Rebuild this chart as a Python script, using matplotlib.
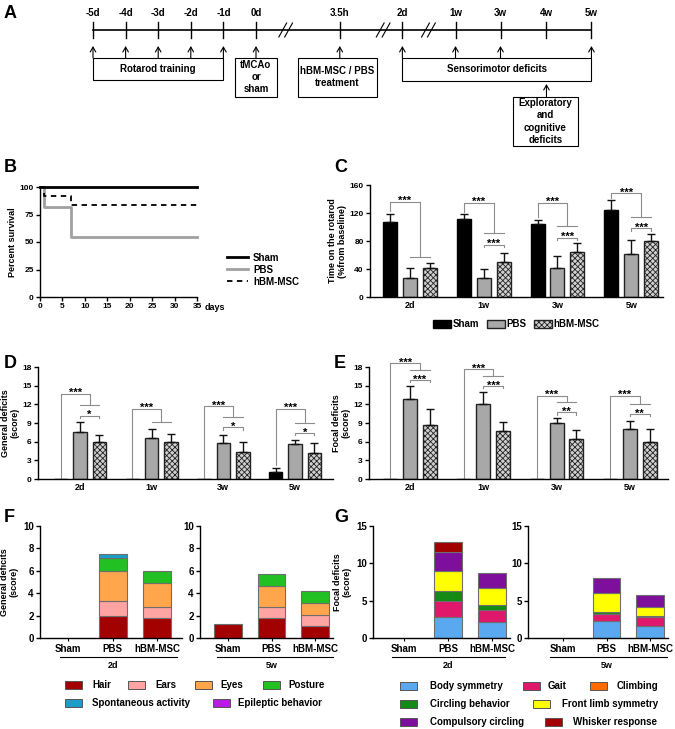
import numpy as np
import matplotlib
matplotlib.use('Agg')
import matplotlib.pyplot as plt
from matplotlib.patches import Rectangle
from matplotlib.lines import Line2D
import matplotlib.transforms as mtransforms

plt.rcParams['font.family'] = ['Liberation Sans', 'DejaVu Sans']
plt.rcParams['font.weight'] = 'bold'
plt.rcParams['axes.labelweight'] = 'bold'
plt.rcParams['axes.linewidth'] = 1.0
plt.rcParams['hatch.linewidth'] = 0.6
plt.rcParams['xtick.labelsize'] = 6.5
plt.rcParams['ytick.labelsize'] = 6

W, H = 675, 729

# ==================== data ====================
# A: timeline
tl_labels = ['-5d', '-4d', '-3d', '-2d', '-1d', '0d', '3.5h', '2d', '1w', '3w', '4w', '5w']
tl_pos = [0, 1, 2, 3, 4, 5, 7.57, 9.49, 11.12, 12.5, 13.91, 15.29]
tl_arrow = [1, 1, 1, 1, 1, 1, 1, 1, 1, 1, 0, 1]
tl_breaks = [5.91, 8.9, 10.29]
box_text = ['Rotarod training', 'tMCAo\nor\nsham', 'hBM-MSC / PBS\ntreatment', 'Sensorimotor deficits']
box_left = [0, 4.36, 6.28, 9.49]
box_right = [4, 5.64, 8.72, 15.29]
box_bottom = [80, 97, 97, 81]

# B: survival
surv_days = [0, 1, 7, 35]
surv_sham = [100, 100, 100, 100]
surv_pbs = [100, 81.8, 54.5, 54.5]
surv_msc = [100, 91.7, 83.3, 83.3]

groups = ['2d', '1w', '3w', '5w']

# C: rotarod
c_sham = [107, 111, 104, 124]
c_sham_err = [12, 7, 6, 14]
c_pbs = [27, 27, 42, 61]
c_pbs_err = [15, 13, 16, 21]
c_msc = [41, 50, 65, 80]
c_msc_err = [8, 13, 12, 10]
c_up = [136, 135, 135, 148]
c_drop = [57, 92, 101, 115]
c_low = [None, 75, 85, 98]
c_stars = ['', '***', '***', '***']

# D: general deficits
d_sham = [0, 0, 0, 1.2]
d_sham_err = [0, 0, 0, 0.6]
d_pbs = [7.5, 6.6, 5.8, 5.6]
d_pbs_err = [1.6, 1.5, 1.2, 0.6]
d_msc = [6.0, 6.0, 4.3, 4.2]
d_msc_err = [1.0, 1.3, 1.7, 1.6]
d_up = [13.7, 11.3, 11.7, 11.3]
d_drop = [11.9, 9.1, 9.9, 9.05]
d_low = [10.2, None, 8.3, 7.4]
d_stars = ['*', '', '*', '*']

# E: focal deficits
e_sham = [0, 0, 0, 0]
e_sham_err = [0, 0, 0, 0]
e_pbs = [12.85, 12.05, 8.95, 8.1]
e_pbs_err = [2.1, 1.9, 0.8, 1.3]
e_msc = [8.6, 7.75, 6.45, 5.9]
e_msc_err = [2.7, 1.35, 1.35, 2.1]
e_up = [18.6, 17.7, 13.4, 13.4]
e_drop = [17.5, 16.6, 12.3, 12.1]
e_low = [15.9, 14.9, 10.7, 10.4]
e_stars = ['***', '***', '**', '**']

# F: general deficits components
conds = ['Sham', 'PBS', 'hBM-MSC']
f_cats = ['Hair', 'Ears', 'Eyes', 'Posture', 'Spontaneous activity', 'Epileptic behavior']
f_colors = ['#a30000', '#ffa3a3', '#ffa64d', '#22c022', '#1a9ec8', '#b71ce0']
f_2d_sham = [0, 0, 0, 0, 0, 0]
f_2d_pbs = [2.0, 1.3, 2.65, 1.2, 0.38, 0]
f_2d_msc = [1.75, 1.0, 2.2, 1.0, 0, 0]
f_5w_sham = [1.22, 0, 0, 0, 0, 0]
f_5w_pbs = [1.82, 0.96, 1.85, 1.04, 0, 0]
f_5w_msc = [1.07, 1.02, 1.04, 1.08, 0, 0]

# G: focal deficits components
g_cats = ['Body symmetry', 'Gait', 'Climbing', 'Circling behavior', 'Front limb symmetry',
          'Compulsory circling', 'Whisker response']
g_colors = ['#5aa9f0', '#e0186c', '#ff6a00', '#138a13', '#ffff00', '#7d0f9c', '#a30000']
g_2d_sham = [0, 0, 0, 0, 0, 0, 0]
g_2d_pbs = [2.82, 2.15, 0, 1.39, 2.64, 2.5, 1.35]
g_2d_msc = [2.15, 1.65, 0, 0.68, 2.15, 2.1, 0]
g_5w_sham = [0, 0, 0, 0, 0, 0, 0]
g_5w_pbs = [2.24, 1.03, 0, 0.22, 2.47, 2.14, 0]
g_5w_msc = [1.61, 1.21, 0, 0.09, 1.25, 1.66, 0]

# ==================== figure ====================
fig = plt.figure(figsize=(W / 100, H / 100), dpi=100)


def add_ax(l, t, r, b):
    return fig.add_axes([l / W, 1 - b / H, (r - l) / W, (b - t) / H])


def style(ax):
    for s in ['top', 'right']:
        ax.spines[s].set_visible(False)
    ax.tick_params(direction='out', length=3, width=1, pad=1.5)


arrow_kw = dict(arrowstyle='->,head_length=0.35,head_width=0.2', lw=0.8, color='black', shrinkA=0, shrinkB=0)

# ---- A: timeline ----
axA = add_ax(0, 0, 675, 160)
axA.set_xlim(-93 / 32.6, (675 - 93) / 32.6)
axA.set_ylim(160, 0)
axA.axis('off')
axA.plot([tl_pos[0], tl_pos[-1]], [30, 30], color='black', lw=1.2)
for p, lab, arr in zip(tl_pos, tl_labels, tl_arrow):
    axA.plot([p, p], [22, 38], color='black', lw=1.0)
    axA.text(p, 13, lab, ha='center', va='center', fontsize=7)
    if arr:
        axA.annotate('', xy=(p, 46), xytext=(p, 58), arrowprops=arrow_kw)
for b in tl_breaks:
    for d in (-0.09, 0.09):
        axA.plot([b + d - 0.12, b + d + 0.12], [37, 23], color='black', lw=0.8)
for txt, l, r, bt in zip(box_text, box_left, box_right, box_bottom):
    axA.add_patch(Rectangle((l, 58), r - l, bt - 58, fill=False, ec='black', lw=0.8))
    axA.text((l + r) / 2, (58 + bt) / 2, txt, ha='center', va='center', fontsize=7, linespacing=1.25)
axA.annotate('', xy=(tl_pos[10], 84), xytext=(tl_pos[10], 97), arrowprops=arrow_kw)
axA.add_patch(Rectangle((12.88, 97), 1.99, 49, fill=False, ec='black', lw=0.8))
axA.text(13.875, 121.5, 'Exploratory\nand\ncognitive\ndeficits', ha='center', va='center', fontsize=7,
         linespacing=1.3)

# ---- B: survival ----
axB = add_ax(40, 187, 197, 297)
style(axB)
axB.step(surv_days, surv_sham, where='post', color='black', lw=2, label='Sham', clip_on=False, zorder=3)
axB.step(surv_days, surv_pbs, where='post', color='#a0a0a0', lw=2, label='PBS', clip_on=False)
axB.step(surv_days, surv_msc, where='post', color='black', lw=1.3, ls=(0, (3, 2.5)), label='hBM-MSC',
         clip_on=False)
axB.set_xlim(0, 35)
axB.set_ylim(0, 100)
axB.set_xticks(range(0, 36, 5))
axB.set_yticks([0, 25, 50, 75, 100])
axB.tick_params(axis='x', labelsize=6)
axB.set_ylabel('Percent survival', fontsize=6.5, labelpad=2)
axB.text(1.05, -0.1, 'days', transform=axB.transAxes, fontsize=6.5, ha='left', va='center')
axB.legend(loc='upper left', bbox_to_anchor=(218 / W, 1 - 244 / H), bbox_transform=fig.transFigure,
           frameon=False, fontsize=7, handlelength=2.2, handletextpad=0.5, labelspacing=0.2)


def stars_at(ax, x, y, s):
    ax.annotate(s, (x, y), xytext=(0, -1.8), textcoords='offset points', ha='center', va='baseline',
                fontsize=8, annotation_clip=False)


# ---- C, D, E: grouped bars ----
def bar_panel(ax, sham, sham_e, pbs, pbs_e, msc, msc_e, up, drop, low, stars, gap, tk):
    x = np.arange(len(groups))
    off, w = 0.27, 0.19
    ax.bar(x - off, sham, w, color='black', edgecolor='black', lw=1, label='Sham')
    ax.bar(x, pbs, w, color='#a8a8a8', edgecolor='#222222', lw=1, label='PBS')
    ax.bar(x + off, msc, w, color='#d0d0d0', edgecolor='#222222', lw=1, hatch='xxxxxx', label='hBM-MSC')
    for xs, v, e in ((x - off, sham, sham_e), (x, pbs, pbs_e), (x + off, msc, msc_e)):
        v = np.array(v, float)
        e = np.array(e, float)
        m = v > 0
        ax.errorbar(xs[m], v[m], yerr=[np.zeros(m.sum()), e[m]], fmt='none', ecolor='#111111',
                    elinewidth=1, capsize=3, capthick=1)
    gray = '#8c8c8c'
    for i in range(len(groups)):
        leg = sham[i] + sham_e[i] + gap if sham[i] > 0 else 0
        xl, xm = i - off, i + off / 2
        ax.plot([xl, xl, xm, xm], [leg, up[i], up[i], drop[i]], color=gray, lw=0.8, clip_on=False)
        ax.plot([i, i + off], [drop[i], drop[i]], color=gray, lw=0.8, clip_on=False)
        stars_at(ax, (xl + xm) / 2, up[i], '***')
        if low[i] is not None:
            ax.plot([i, i, i + off, i + off], [low[i] - tk, low[i], low[i], low[i] - tk], color=gray, lw=0.8,
                    clip_on=False)
            stars_at(ax, i + off / 2, low[i], stars[i])
    ax.set_xticks(x)
    ax.set_xticklabels(groups)
    style(ax)
    ax.tick_params(axis='x', length=0, pad=3)


axC = add_ax(370, 185, 663, 297)
bar_panel(axC, c_sham, c_sham_err, c_pbs, c_pbs_err, c_msc, c_msc_err, c_up, c_drop, c_low, c_stars, 4, 3)
axC.set_xlim(-0.54, 3.43)
axC.set_ylim(0, 160)
axC.set_yticks(range(0, 161, 40))
axC.set_ylabel('Time on the rotarod\n(%from baseline)', fontsize=6.5, labelpad=2, linespacing=1.1)
axC.legend(loc='upper center', bbox_to_anchor=(0.5, -0.12), ncol=3, frameon=False, fontsize=7,
           handlelength=1.8, handleheight=0.9, handletextpad=0.2, columnspacing=0.8)

axD = add_ax(38, 367, 333, 479)
bar_panel(axD, d_sham, d_sham_err, d_pbs, d_pbs_err, d_msc, d_msc_err, d_up, d_drop, d_low, d_stars, 0.5, 0.35)
axD.set_xlim(-0.586, 3.53)
axD.set_ylim(0, 18)
axD.set_yticks(range(0, 19, 3))
axD.set_ylabel('General deficits\n(score)', fontsize=6.5, labelpad=2, linespacing=1.1)

axE = add_ax(369, 367, 668, 479)
bar_panel(axE, e_sham, e_sham_err, e_pbs, e_pbs_err, e_msc, e_msc_err, e_up, e_drop, e_low, e_stars, 0.5, 0.35)
axE.set_xlim(-0.56, 3.52)
axE.set_ylim(0, 18)
axE.set_yticks(range(0, 19, 3))
axE.set_ylabel('Focal deficits\n(score)', fontsize=6.5, labelpad=2, linespacing=1.1)


# ---- F, G: stacked bars ----
def stack_panel(ax, sets, colors, ymax, yticks, xlim, group_lab, line_x):
    vals = np.array(sets, float)  # conditions x categories
    x = np.arange(len(conds))
    bottom = np.zeros(len(conds))
    for k in range(vals.shape[1]):
        h = vals[:, k]
        m = h > 0
        if m.any():
            ax.bar(x[m], h[m], 0.63, bottom=bottom[m], color=colors[k], edgecolor='#6e6e6e', lw=0.8)
        bottom += h
    ax.set_xlim(*xlim)
    ax.set_ylim(0, ymax)
    ax.set_yticks(yticks)
    ax.set_xticks(x)
    ax.set_xticklabels(conds, fontsize=7)
    style(ax)
    ax.tick_params(axis='x', length=2, width=0.8, pad=2.5)
    ax.tick_params(axis='y', labelsize=7)
    tr = mtransforms.blended_transform_factory(ax.transData, ax.transAxes)
    ax.add_line(Line2D(line_x, [-0.17, -0.17], transform=tr, color='black', lw=0.8, clip_on=False))
    ax.text(1, -0.245, group_lab, transform=tr, ha='center', va='center', fontsize=6.5)


axF1 = add_ax(40, 526, 182, 638)
stack_panel(axF1, [f_2d_sham, f_2d_pbs, f_2d_msc], f_colors, 10, range(0, 11, 2), (-0.63, 2.56), '2d',
            [-0.18, 2.45])
axF1.set_ylabel('General deficits\n(score)', fontsize=6.5, labelpad=3, linespacing=1.1)
axF2 = add_ax(200, 526, 333, 638)
stack_panel(axF2, [f_5w_sham, f_5w_pbs, f_5w_msc], f_colors, 10, range(0, 11, 2), (-0.64, 2.41), '5w',
            [-0.25, 2.4])

axG1 = add_ax(373, 526, 510, 638)
stack_panel(axG1, [g_2d_sham, g_2d_pbs, g_2d_msc], g_colors, 15, [0, 5, 10, 15], (-0.7, 2.41), '2d',
            [-0.27, 2.3])
axG1.set_ylabel('Focal deficits\n(score)', fontsize=6.5, labelpad=3, linespacing=1.1)
axG2 = add_ax(528, 526, 668, 638)
stack_panel(axG2, [g_5w_sham, g_5w_pbs, g_5w_msc], g_colors, 15, [0, 5, 10, 15], (-0.8, 2.41), '5w',
            [-0.3, 2.39])

# legends for F and G (manual rows)
axL = add_ax(0, 0, 675, 729)
axL.set_xlim(0, W)
axL.set_ylim(H, 0)
axL.axis('off')
f_leg_x = [65, 128, 195, 263, 65, 213]
f_leg_y = [685, 685, 685, 685, 703, 703]
f_leg_tx = [92, 155, 220, 288, 92, 238]
for lab, col, lx, ly, tx in zip(f_cats, f_colors, f_leg_x, f_leg_y, f_leg_tx):
    axL.add_patch(Rectangle((lx, ly - 4), 17, 8, fc=col, ec='#555555', lw=0.7))
    axL.text(tx, ly, lab, ha='left', va='center', fontsize=7)
g_leg_x = [400, 523, 590, 400, 533, 400, 545]
g_leg_y = [686, 686, 686, 704, 704, 722, 722]
g_leg_tx = [430, 548, 617, 430, 562, 430, 573]
for lab, col, lx, ly, tx in zip(g_cats, g_colors, g_leg_x, g_leg_y, g_leg_tx):
    axL.add_patch(Rectangle((lx, ly - 4), 17, 8, fc=col, ec='#555555', lw=0.7))
    axL.text(tx, ly, lab, ha='left', va='center', fontsize=7)

# panel letters
for lab, px, py in [('A', 4, 14), ('B', 4, 168), ('C', 334, 168), ('D', 4, 363), ('E', 334, 363),
                    ('F', 4, 518), ('G', 334, 518)]:
    fig.text(px / W, 1 - py / H, lab, fontsize=13, fontweight='bold', ha='left', va='center')

fig.savefig('out.png', dpi=100)
